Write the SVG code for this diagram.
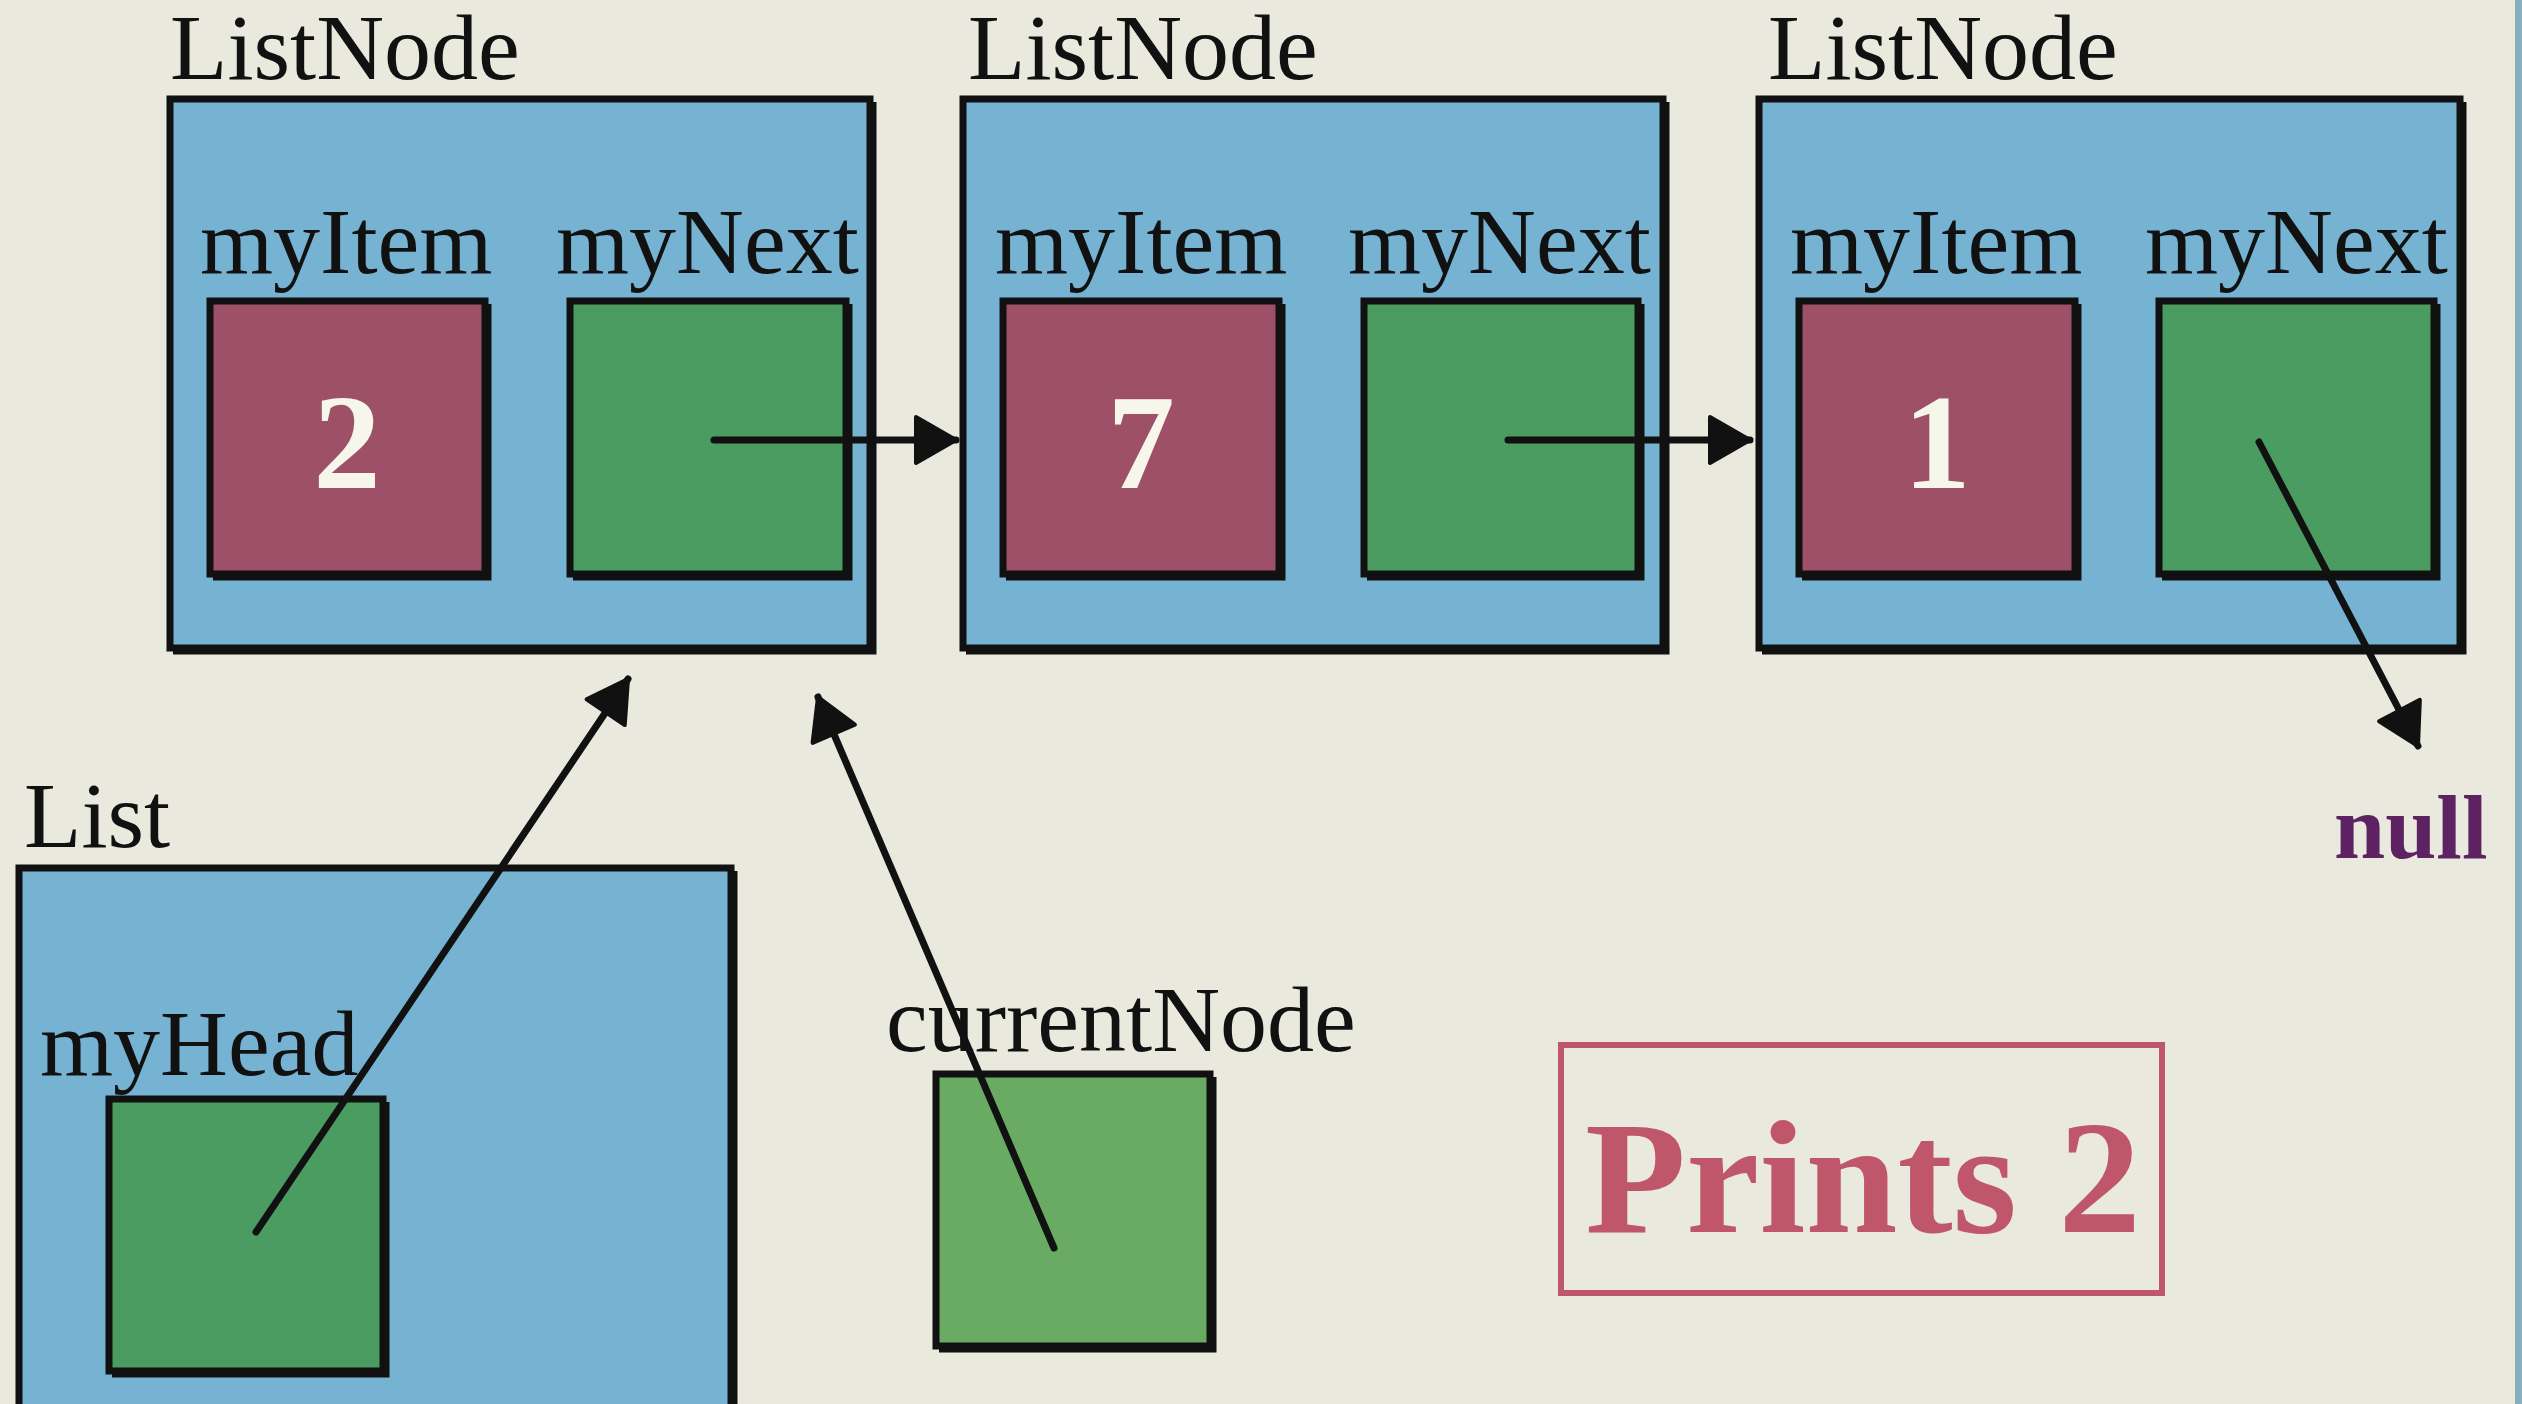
<svg xmlns="http://www.w3.org/2000/svg" width="2522" height="1404" viewBox="0 0 2522 1404">
  <style>
    .lbl { font-family: "Liberation Serif", "DejaVu Serif", serif; font-size: 94px; fill: #111; }
    .num { font-family: "Liberation Serif", "DejaVu Serif", serif; font-size: 135px; font-weight: bold; fill: #f7f6ea; text-anchor: middle; }
    .outer { fill: #76b3d3; stroke: #111; stroke-width: 7; }
    .item { fill: #9d5068; stroke: #111; stroke-width: 7; }
    .next { fill: #4b9c60; stroke: #111; stroke-width: 7; }
    .cur { fill: #6aab64; stroke: #111; stroke-width: 7; }
    .shade { fill: none; stroke: #111; stroke-width: 5; }
    .arrow { fill: none; stroke: #111; stroke-width: 7; stroke-linecap: round; marker-end: url(#head); }
  </style>
  <defs>
    <marker id="head" markerUnits="userSpaceOnUse" viewBox="0 0 46 52" refX="43" refY="26" markerWidth="46" markerHeight="52" orient="auto">
      <path d="M3,3 L43,26 L3,49 Z" fill="#111" stroke="#111" stroke-width="4" stroke-linejoin="round"/>
    </marker>
  </defs>

  <rect x="0" y="0" width="2522" height="1404" fill="#e9e9dd"/>
  <rect x="2515" y="0" width="7" height="1404" fill="#88afbd"/>

  <g id="listnode1">
    <text class="lbl" x="170" y="79">ListNode</text>
    <rect class="outer" x="170" y="99" width="700" height="549"/>
    <path class="shade" d="M874,102 L874,652 L173,652"/>
    <text class="lbl" x="200" y="273">myItem</text>
    <text class="lbl" x="556" y="273">myNext</text>
    <rect class="item" x="210" y="301" width="275" height="273"/>
    <path class="shade" d="M489,304 L489,578 L213,578"/>
    <text class="num" x="347" y="488">2</text>
    <rect class="next" x="570" y="301" width="276" height="273"/>
    <path class="shade" d="M850,304 L850,578 L573,578"/>
  </g>

  <g id="listnode2">
    <text class="lbl" x="968" y="79">ListNode</text>
    <rect class="outer" x="963" y="99" width="700" height="549"/>
    <path class="shade" d="M1667,102 L1667,652 L966,652"/>
    <text class="lbl" x="995" y="273">myItem</text>
    <text class="lbl" x="1348" y="273">myNext</text>
    <rect class="item" x="1003" y="301" width="276" height="273"/>
    <path class="shade" d="M1283,304 L1283,578 L1006,578"/>
    <text class="num" x="1141" y="488">7</text>
    <rect class="next" x="1364" y="301" width="274" height="273"/>
    <path class="shade" d="M1642,304 L1642,578 L1367,578"/>
  </g>

  <g id="listnode3">
    <text class="lbl" x="1768" y="79">ListNode</text>
    <rect class="outer" x="1759" y="99" width="701" height="549"/>
    <path class="shade" d="M2464,102 L2464,652 L1762,652"/>
    <text class="lbl" x="1790" y="273">myItem</text>
    <text class="lbl" x="2145" y="273">myNext</text>
    <rect class="item" x="1799" y="301" width="276" height="273"/>
    <path class="shade" d="M2079,304 L2079,578 L1802,578"/>
    <text class="num" x="1937" y="488">1</text>
    <rect class="next" x="2159" y="301" width="275" height="273"/>
    <path class="shade" d="M2438,304 L2438,578 L2162,578"/>
  </g>

  <g id="null">
    <text x="2334" y="858" style="font-family: 'Liberation Serif', 'DejaVu Serif', serif; font-size: 92px; font-weight: bold; fill: #5c2262;">null</text>
  </g>

  <g id="list">
    <text class="lbl" x="24" y="847">List</text>
    <rect class="outer" x="19" y="868" width="712" height="560"/>
    <path class="shade" d="M735,871 L735,1410"/>
    <text class="lbl" x="40" y="1075">myHead</text>
    <rect class="next" x="109" y="1099" width="274" height="272"/>
    <path class="shade" d="M387,1102 L387,1375 L112,1375"/>
  </g>

  <g id="currentNode">
    <text class="lbl" x="886" y="1051">currentNode</text>
    <rect class="cur" x="936" y="1074" width="274" height="272"/>
    <path class="shade" d="M1214,1077 L1214,1350 L939,1350"/>
  </g>

  <g id="prints">
    <rect x="1561" y="1045" width="601" height="248" fill="none" stroke="#c0566a" stroke-width="6"/>
    <text x="1585" y="1232" textLength="556" lengthAdjust="spacingAndGlyphs" style="font-family: 'Liberation Serif', 'DejaVu Serif', serif; font-size: 162px; font-weight: bold; fill: #c0566a;">Prints 2</text>
  </g>

  <g id="connectors">
    <line class="arrow" x1="714" y1="440" x2="956" y2="440"/>
    <line class="arrow" x1="1508" y1="440" x2="1750" y2="440"/>
    <line class="arrow" x1="2259" y1="442" x2="2418" y2="746"/>
    <line class="arrow" x1="256" y1="1232" x2="628" y2="679"/>
    <line class="arrow" x1="1054" y1="1248" x2="818" y2="697"/>
  </g>
</svg>
